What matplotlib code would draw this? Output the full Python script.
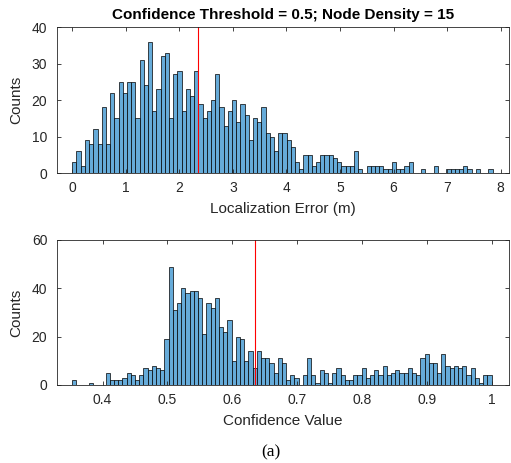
import numpy as np
import matplotlib
matplotlib.use("Agg")
import matplotlib.pyplot as plt

# localization error histogram, 100 bins over [0, 7.85]
err_lo, err_hi = 0.0, 7.85
err_counts = [
    3, 6, 2, 9, 8, 12, 8, 18, 8, 22, 15, 25, 22, 25, 25, 15, 31, 24, 36, 17,
    23, 32, 33, 15, 27, 28, 17, 23, 21, 28, 19, 15, 17, 20, 27, 18, 13, 17, 20, 14,
    19, 16, 9, 15, 14, 18, 11, 10, 6, 11, 11, 9, 7, 3, 1, 5, 5, 2, 3, 5,
    5, 5, 4, 3, 2, 2, 2, 6, 1, 0, 2, 2, 2, 2, 1, 1, 3, 1, 1, 2,
    3, 0, 0, 1, 0, 0, 2, 0, 0, 1, 1, 1, 1, 2, 1, 0, 1, 0, 0, 1,
]
err_mean = 2.34

# confidence value histogram, 100 bins over [0.353, 1.0]
conf_lo, conf_hi = 0.353, 1.0
conf_counts = [
    2, 0, 0, 0, 1, 0, 0, 0, 5, 2, 2, 2, 3, 5, 4, 2, 4, 7, 6, 8,
    7, 6, 19, 49, 31, 34, 40, 38, 39, 39, 36, 21, 34, 32, 36, 24, 22, 27, 10, 20,
    19, 10, 14, 7, 14, 11, 11, 9, 5, 11, 9, 2, 4, 3, 0, 4, 11, 4, 1, 6,
    5, 1, 5, 7, 4, 2, 2, 4, 4, 7, 3, 4, 6, 4, 8, 4, 5, 6, 5, 5,
    7, 5, 4, 11, 13, 9, 9, 5, 13, 8, 7, 8, 7, 8, 4, 7, 3, 1, 4, 4,
]
conf_mean = 0.6355

bar_face = (0.40, 0.67, 0.85)
axis_col = (0.15, 0.15, 0.15)

plt.rcParams["font.family"] = ["Liberation Sans", "DejaVu Sans"]

fig = plt.figure(figsize=(5.11, 4.63), dpi=100)
ax1 = fig.add_axes([0.1115, 0.6263, 0.8845, 0.3153])
ax2 = fig.add_axes([0.1115, 0.1685, 0.8845, 0.3132])


def draw_hist(ax, lo, hi, counts, mean):
    edges = np.linspace(lo, hi, len(counts) + 1)
    ax.bar(edges[:-1], counts, width=np.diff(edges), align="edge",
           color=bar_face, edgecolor="black", linewidth=0.5)
    ax.axvline(mean, color="red", linewidth=0.8)
    for s in ax.spines.values():
        s.set_color(axis_col)
        s.set_linewidth(0.6)
    ax.tick_params(direction="in", top=True, right=True, length=3,
                   width=0.6, color=axis_col, labelsize=10, labelcolor=axis_col)
    ax.tick_params(axis="x", pad=5.5)
    ax.tick_params(axis="y", pad=7)
    ax.set_ylabel("Counts", fontsize=11, color=axis_col, labelpad=6)


draw_hist(ax1, err_lo, err_hi, err_counts, err_mean)
ax1.set_xlim(-0.286, 8.155)
ax1.set_ylim(0, 40)
ax1.set_xticks(range(0, 9))
ax1.set_yticks([0, 10, 20, 30, 40])
ax1.set_xlabel("Localization Error (m)", fontsize=11, color=axis_col, labelpad=5)
ax1.set_title("Confidence Threshold = 0.5; Node Density = 15",
              fontsize=11, fontweight="bold", pad=6)

draw_hist(ax2, conf_lo, conf_hi, conf_counts, conf_mean)
ax2.set_xlim(0.3296, 1.0267)
ax2.set_ylim(0, 60)
ax2.set_xticks([0.4, 0.5, 0.6, 0.7, 0.8, 0.9, 1.0])
ax2.set_xticklabels(["0.4", "0.5", "0.6", "0.7", "0.8", "0.9", "1"])
ax2.set_yticks([0, 20, 40, 60])
ax2.set_xlabel("Confidence Value", fontsize=11, color=axis_col, labelpad=5)

fig.text(271 / 511, 1 - 452 / 463, "(a)", ha="center", va="center",
         fontsize=12.5, family="Liberation Serif")

fig.savefig("out.png", dpi=100)
